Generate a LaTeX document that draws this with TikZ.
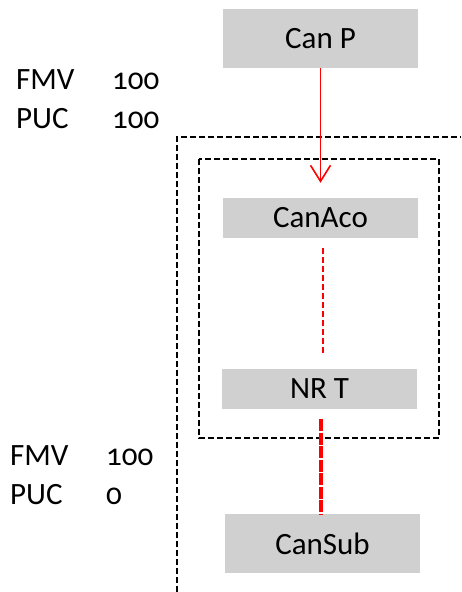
\documentclass[tikz,border=0pt]{standalone}
\usepackage{fontspec}
\setmainfont{Carlito}[Numbers=OldStyle]
\usetikzlibrary{arrows.meta,positioning}
\definecolor{boxgray}{HTML}{D0D0D0}

\begin{document}
\begin{tikzpicture}[
  x=1pt, y=-1pt,
  font=\fontsize{31}{37}\selectfont,
  box/.style={fill=boxgray, inner sep=0pt, minimum width=195pt, minimum height=#1},
  box/.default=40pt,
  lbl/.style={anchor=base west, inner sep=0pt},
  frame/.style={draw=black, line width=2pt, dash pattern=on 6pt off 3pt},
  link/.style={draw=red, line width=1.6pt},
  arrow/.style={link, -{Straight Barb[length=16pt, width=20pt, line width=1.6pt]}}
]
\useasboundingbox (0,0) rectangle (461,592);

% groups
\draw[frame] (177,592) -- (177,137) -- (461,137);
\draw[frame, line width=2.4pt] (199,159) rectangle (439,438);

% entities
\node[box=59pt] (canp) at (320.5,38.5) {Can P};
\node[box] (canaco) at (320.5,218) {CanAco};
\node[box] (nrt) at (319.5,389) {NR T};
\node[box=59pt] (cansub) at (322.5,543.5) {CanSub};

% values
\node[lbl] (fmvtop) at (16,89) {FMV};
\node[lbl] (fmvtopval) at (112,89) {100};
\node[lbl] (puctop) at (16,128) {PUC};
\node[lbl] (puctopval) at (112,128) {100};
\node[lbl] (fmvbot) at (10,465) {FMV};
\node[lbl] (fmvbotval) at (106,465) {100};
\node[lbl] (pucbot) at (10,504) {PUC};
\node[lbl] (pucbotval) at (106,504) {0};

% links
\draw[arrow, shorten >=15pt] (canp.south) -- (canp.south |- canaco.north);
\draw[link, dash pattern=on 6pt off 3pt, shorten <=10pt, shorten >=13pt] ([xshift=2.5pt]canaco.south) -- ([xshift=3.5pt]nrt.north);
\draw[link, line width=4pt, dash pattern=on 12pt off 1.5pt, shorten <=10pt] ([xshift=1.5pt]nrt.south) -- ([xshift=-1.5pt]cansub.north);
\end{tikzpicture}
\end{document}
